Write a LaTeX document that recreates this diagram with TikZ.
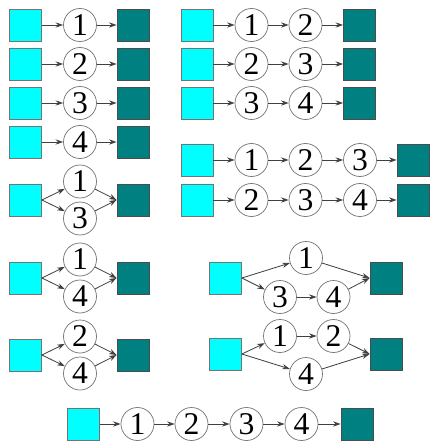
\documentclass[tikz,border=0pt]{standalone}
\usepackage{fontspec}
\setmainfont{Liberation Serif}
\usetikzlibrary{arrows.meta}
\definecolor{srccolor} {RGB}{0, 255, 255}
\definecolor{sinkcolor}{RGB}{0, 128, 128}
\tikzset{
	srcbox/.style={
		rectangle, minimum width=9.6mm, minimum height=9.6mm,
		inner sep=0pt, draw=black!55, line width=0.6pt, fill=srccolor
	},
	sinkbox/.style={
		rectangle, minimum width=9.6mm, minimum height=9.6mm,
		inner sep=0pt, draw=black!70, line width=0.6pt, fill=sinkcolor
	},
	taskcirc/.style={
		circle, minimum size=9.9mm, inner sep=0pt,
		draw=black!55, line width=0.6pt, fill=white,
		font=\fontsize{27}{27}\selectfont
	},
	arrow/.style={
		-{Stealth[length=6.5pt, width=4.5pt]}, line width=0.7pt, color=black!75
	}
}

\begin{document}
\begin{tikzpicture}[x=0.3mm, y=-0.3mm]
		\useasboundingbox (0,0) rectangle (429,441);
		%% ═══════════════════════════════
		%%  LEFT COLUMN — one task
		%% ═══════════════════════════════
		\node[srcbox] (a1s) at (25.5,25) {};
		\node[taskcirc] (a1t) at (80,25) {1};
		\node[sinkbox] (a1d) at (133,25) {};
		
		\node[srcbox] (a2s) at (25.5,64) {};
		\node[taskcirc] (a2t) at (80,64) {2};
		\node[sinkbox] (a2d) at (133,64) {};
		
		\node[srcbox] (a3s) at (25.5,103) {};
		\node[taskcirc] (a3t) at (80,103) {3};
		\node[sinkbox] (a3d) at (133,103) {};
		
		\node[srcbox] (a4s) at (25.5,142) {};
		\node[taskcirc] (a4t) at (80,142) {4};
		\node[sinkbox] (a4d) at (133,142) {};
		
		\draw[arrow] (a1s) -- (a1t);  \draw[arrow] (a1t) -- (a1d);
		\draw[arrow] (a2s) -- (a2t);  \draw[arrow] (a2t) -- (a2d);
		\draw[arrow] (a3s) -- (a3t);  \draw[arrow] (a3t) -- (a3d);
		\draw[arrow] (a4s) -- (a4t);  \draw[arrow] (a4t) -- (a4d);
		
		%% ═══════════════════════════════
		%%  RIGHT COLUMN — two tasks in a row
		%% ═══════════════════════════════
		\node[srcbox] (b1s) at (197,25) {};
		\node[taskcirc] (b1t) at (251.5,25) {1};
		\node[taskcirc] (b1u) at (305.5,25) {2};
		\node[sinkbox] (b1d) at (359.5,25) {};
		
		\node[srcbox] (b2s) at (197,64) {};
		\node[taskcirc] (b2t) at (251.5,64) {2};
		\node[taskcirc] (b2u) at (305.5,64) {3};
		\node[sinkbox] (b2d) at (359.5,64) {};
		
		\node[srcbox] (b3s) at (197,103) {};
		\node[taskcirc] (b3t) at (251.5,103) {3};
		\node[taskcirc] (b3u) at (305.5,103) {4};
		\node[sinkbox] (b3d) at (359.5,103) {};
		
		\draw[arrow] (b1s) -- (b1t);  \draw[arrow] (b1t) -- (b1u);  \draw[arrow] (b1u) -- (b1d);
		\draw[arrow] (b2s) -- (b2t);  \draw[arrow] (b2t) -- (b2u);  \draw[arrow] (b2u) -- (b2d);
		\draw[arrow] (b3s) -- (b3t);  \draw[arrow] (b3t) -- (b3u);  \draw[arrow] (b3u) -- (b3d);
		
		%% ═══════════════════════════════
		%%  RIGHT COLUMN — three tasks in a row
		%% ═══════════════════════════════
		\node[srcbox] (c1s) at (197,160) {};
		\node[taskcirc] (c1t) at (251.5,160) {1};
		\node[taskcirc] (c1u) at (305.5,160) {2};
		\node[taskcirc] (c1v) at (360,160) {3};
		\node[sinkbox] (c1d) at (413,160) {};
		
		\node[srcbox] (c2s) at (197,200) {};
		\node[taskcirc] (c2t) at (251.5,200) {2};
		\node[taskcirc] (c2u) at (305.5,200) {3};
		\node[taskcirc] (c2v) at (360,200) {4};
		\node[sinkbox] (c2d) at (413,200) {};
		
		\draw[arrow] (c1s) -- (c1t);  \draw[arrow] (c1t) -- (c1u);
		\draw[arrow] (c1u) -- (c1v);  \draw[arrow] (c1v) -- (c1d);
		\draw[arrow] (c2s) -- (c2t);  \draw[arrow] (c2t) -- (c2u);
		\draw[arrow] (c2u) -- (c2v);  \draw[arrow] (c2v) -- (c2d);
		
		%% ═══════════════════════════════
		%%  LEFT COLUMN — two tasks side by side
		%% ═══════════════════════════════
		\node[srcbox] (d1s) at (25.5,200) {};
		\node[taskcirc] (d1t) at (80,181.5) {1};
		\node[taskcirc] (d1u) at (80,218.5) {3};
		\node[sinkbox] (d1d) at (133,200) {};
		
		\node[srcbox] (d2s) at (25.5,278) {};
		\node[taskcirc] (d2t) at (80,259.5) {1};
		\node[taskcirc] (d2u) at (80,296.5) {4};
		\node[sinkbox] (d2d) at (133,278) {};
		
		\node[srcbox] (d3s) at (25.5,355) {};
		\node[taskcirc] (d3t) at (80,336.5) {2};
		\node[taskcirc] (d3u) at (80,373.5) {4};
		\node[sinkbox] (d3d) at (133,355) {};
		
		\draw[arrow] (d1s.east) -- (d1t);  \draw[arrow] (d1s.east) -- (d1u);
		\draw[arrow] (d1t) -- (d1d.west);  \draw[arrow] (d1u) -- (d1d.west);
		\draw[arrow] (d2s.east) -- (d2t);  \draw[arrow] (d2s.east) -- (d2u);
		\draw[arrow] (d2t) -- (d2d.west);  \draw[arrow] (d2u) -- (d2d.west);
		\draw[arrow] (d3s.east) -- (d3t);  \draw[arrow] (d3s.east) -- (d3u);
		\draw[arrow] (d3t) -- (d3d.west);  \draw[arrow] (d3u) -- (d3d.west);
		
		%% ═══════════════════════════════
		%%  RIGHT COLUMN — one task beside a pair
		%% ═══════════════════════════════
		\node[srcbox] (g1s) at (225.5,278) {};
		\node[taskcirc] (g1t) at (306,258) {1};
		\node[taskcirc] (g1u) at (280,297) {3};
		\node[taskcirc] (g1v) at (333.5,297) {4};
		\node[sinkbox] (g1d) at (386,278) {};
		
		\node[srcbox] (g2s) at (225.5,354) {};
		\node[taskcirc] (g2t) at (280,336) {1};
		\node[taskcirc] (g2u) at (333.5,336) {2};
		\node[taskcirc] (g2v) at (306,374) {4};
		\node[sinkbox] (g2d) at (386,354) {};
		
		\draw[arrow] (g1s.east) -- (g1t);  \draw[arrow] (g1s.east) -- (g1u);
		\draw[arrow] (g1u) -- (g1v);
		\draw[arrow] (g1t) -- (g1d.west);  \draw[arrow] (g1v) -- (g1d.west);
		\draw[arrow] (g2s.east) -- (g2t);  \draw[arrow] (g2s.east) -- (g2v);
		\draw[arrow] (g2t) -- (g2u);
		\draw[arrow] (g2u) -- (g2d.west);  \draw[arrow] (g2v) -- (g2d.west);
		
		%% ═══════════════════════════════
		%%  BOTTOM — all four tasks in a row
		%% ═══════════════════════════════
		\node[srcbox] (h1s) at (83.5,424) {};
		\node[taskcirc] (h1t) at (137.5,424) {1};
		\node[taskcirc] (h1u) at (191.5,424) {2};
		\node[taskcirc] (h1v) at (246.5,424) {3};
		\node[taskcirc] (h1w) at (301.5,424) {4};
		\node[sinkbox] (h1d) at (357,424) {};
		
		\draw[arrow] (h1s) -- (h1t);  \draw[arrow] (h1t) -- (h1u);
		\draw[arrow] (h1u) -- (h1v);  \draw[arrow] (h1v) -- (h1w);
		\draw[arrow] (h1w) -- (h1d);
		
	\end{tikzpicture}
\end{document}
